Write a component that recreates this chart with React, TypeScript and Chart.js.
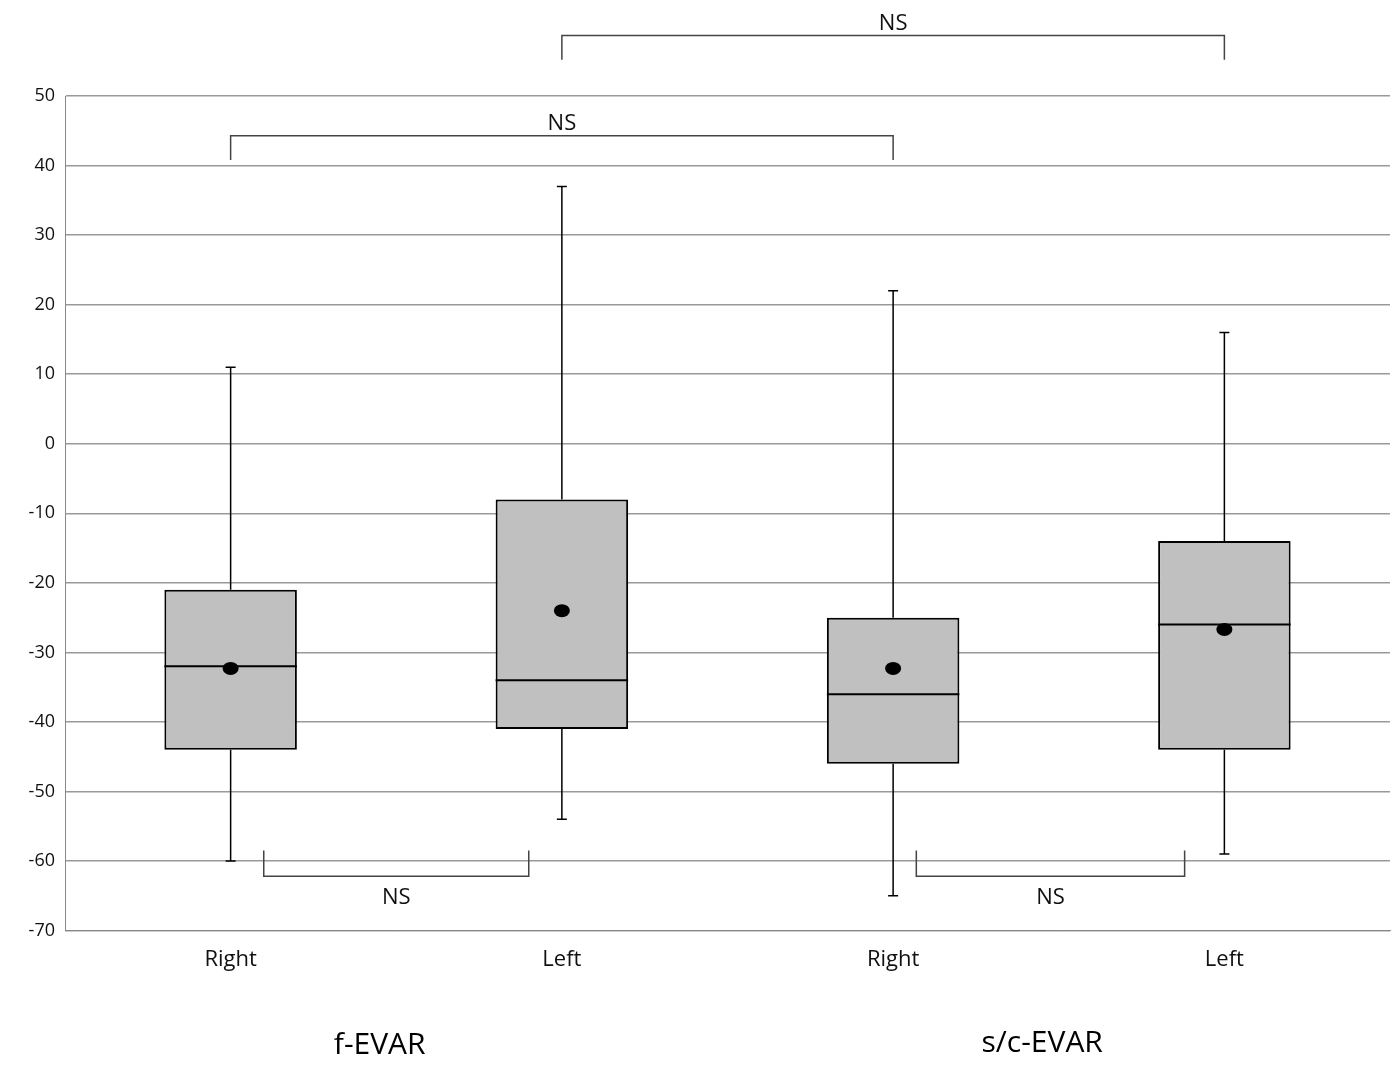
import React, { useEffect, useRef } from "react";
import { Chart, registerables } from "chart.js";
Chart.register(...registerables);

const categories = ["Right", "Left", "Right", "Left"];
const groups = ["f-EVAR", "s/c-EVAR"];
const minVals = [-60, -54, -65, -59];
const q1Vals = [-44, -41, -46, -44];
const medianVals = [-32, -34, -36, -26];
const q3Vals = [-21, -8, -25, -14];
const maxVals = [11, 37, 22, 16];
const meanVals = [-32.3, -24, -32.3, -26.7];
// brackets: [fromIdx, toIdx, barY, tipY, label, labelAbove]
const brackets: [number, number, number, number, string, boolean][] = [
  [0, 2, 44.3, 40.8, "NS", true],
  [1, 3, 58.7, 55.2, "NS", true],
  [0.1, 0.9, -62.2, -58.5, "NS", false],
  [2.07, 2.88, -62.2, -58.5, "NS", false],
];

const boxPlugin = {
  id: "boxExtras",
  afterDatasetsDraw(chart: any) {
    const { ctx, scales } = chart;
    const x = scales.x, y = scales.y;
    const meta = chart.getDatasetMeta(0);
    ctx.save();
    ctx.strokeStyle = "#000";
    categories.forEach((_, i) => {
      const bar = meta.data[i];
      const cx = x.getPixelForValue(i);
      const hw = bar.width / 2;
      ctx.lineWidth = 1.5;
      ctx.beginPath();
      ctx.moveTo(cx, y.getPixelForValue(q3Vals[i]));
      ctx.lineTo(cx, y.getPixelForValue(maxVals[i]));
      ctx.moveTo(cx - 5, y.getPixelForValue(maxVals[i]));
      ctx.lineTo(cx + 5, y.getPixelForValue(maxVals[i]));
      ctx.moveTo(cx, y.getPixelForValue(q1Vals[i]));
      ctx.lineTo(cx, y.getPixelForValue(minVals[i]));
      ctx.moveTo(cx - 5, y.getPixelForValue(minVals[i]));
      ctx.lineTo(cx + 5, y.getPixelForValue(minVals[i]));
      ctx.stroke();
      ctx.lineWidth = 2;
      ctx.beginPath();
      ctx.moveTo(cx - hw, y.getPixelForValue(medianVals[i]));
      ctx.lineTo(cx + hw, y.getPixelForValue(medianVals[i]));
      ctx.stroke();
      ctx.fillStyle = "#000";
      ctx.beginPath();
      ctx.ellipse(cx, y.getPixelForValue(meanVals[i]), 8, 6.5, 0, 0, Math.PI * 2);
      ctx.fill();
    });
    ctx.lineWidth = 1.5;
    ctx.strokeStyle = "#444";
    ctx.fillStyle = "#111";
    ctx.font = "22px 'Open Sans', sans-serif";
    ctx.textAlign = "center";
    brackets.forEach(([a, b, by, ty, label, above]) => {
      const x1 = x.getPixelForValue(a), x2 = x.getPixelForValue(b);
      const yb = y.getPixelForValue(by), yt = y.getPixelForValue(ty);
      ctx.beginPath();
      ctx.moveTo(x1, yt); ctx.lineTo(x1, yb); ctx.lineTo(x2, yb); ctx.lineTo(x2, yt);
      ctx.stroke();
      const mx = (x1 + x2) / 2;
      ctx.textBaseline = above ? "bottom" : "top";
      ctx.fillText(label, mx, above ? yb - 1 : yb + 10);
    });
    ctx.font = "30px 'Open Sans', sans-serif";
    ctx.textBaseline = "middle";
    ctx.fillStyle = "#000";
    ctx.fillText(groups[0], x.getPixelForValue(0.45), 1045);
    ctx.fillText(groups[1], x.getPixelForValue(2.45), 1043);
    ctx.restore();
  },
};

export default function App() {
  const ref = useRef<HTMLCanvasElement>(null);
  useEffect(() => {
    const chart = new Chart(ref.current!, {
      type: "bar",
      data: {
        labels: categories,
        datasets: [{
          data: categories.map((_, i) => [q1Vals[i], q3Vals[i]]),
          backgroundColor: "#c0c0c0",
          borderColor: "#000",
          borderWidth: 2,
          borderSkipped: false,
          barPercentage: 0.4,
          categoryPercentage: 1,
        }],
      },
      options: {
        animation: false,
        responsive: false,
        layout: { padding: { top: 96, bottom: 86, right: 10, left: 0 } },
        plugins: { legend: { display: false }, tooltip: { enabled: false } },
        scales: {
          x: {
            grid: { display: false },
            border: { color: "#888" },
            ticks: { color: "#111", font: { size: 22, family: "'Open Sans', sans-serif" }, padding: 8 },
          },
          y: {
            min: -70, max: 50,
            afterFit: (s: any) => { s.width = 65; },
            grid: { color: "#999", lineWidth: 1.5, drawTicks: false },
            border: { color: "#888" },
            ticks: { stepSize: 10, color: "#111", padding: 10, font: { size: 18, family: "'Open Sans', sans-serif" } },
          },
        },
      },
      plugins: [boxPlugin],
    });
    return () => chart.destroy();
  }, []);
  return (
    <div style={{ position: "fixed", left: 0, top: 0, width: 1400, height: 1067, background: "#fff" }}>
      <canvas ref={ref} width={1400} height={1067} />
    </div>
  );
}
